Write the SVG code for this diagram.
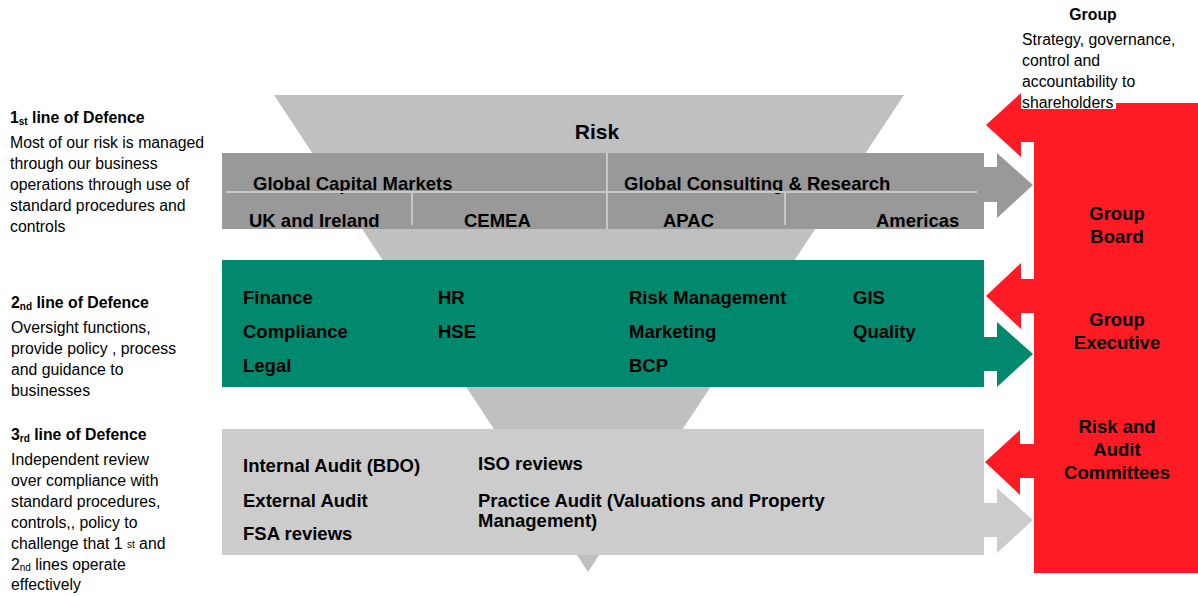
<svg xmlns="http://www.w3.org/2000/svg" width="1198" height="596" viewBox="0 0 1198 596">
<style>
text{font-family:"Liberation Sans",Arial,sans-serif;fill:#000}
.b{font-weight:bold;font-size:18.5px}
.h{font-weight:bold;font-size:15.8px}
.t{font-size:15.8px}
.s{font-size:10px}
.div{stroke:#c8c8c8;stroke-width:2;fill:none}
</style>
<rect width="1198" height="596" fill="#fff"/>
<g id="funnel">
<polygon points="274,95 904,95 588,572" fill="#c0c0c0"/>
<text x="597" y="139" text-anchor="middle" style="font-weight:bold;font-size:21px">Risk</text>
</g>
<g id="connectors">
<polygon points="984,167 997,167 997,153 1033,185 997,218 997,202 984,202" fill="#999999"/>
<polygon points="984,337 997,337 997,322 1033,354 997,387 997,371 984,371" fill="#00896f"/>
<polygon points="984,503 997,503 997,488 1033,520 997,553 997,537 984,537" fill="#cccccc"/>
<polygon points="1035,108 1021,108 1021,93 986,125 1021,157 1021,142 1035,142" fill="#fe1b24"/>
<polygon points="1035,279 1021,279 1021,263 986,296 1021,329 1021,313 1035,313" fill="#fe1b24"/>
<polygon points="1035,444 1020,444 1020,430 985,462 1020,495 1020,478 1035,478" fill="#fe1b24"/>
</g>
<g id="line1">
<rect x="222" y="153" width="762" height="76" fill="#999999"/>
<text class="b" x="253" y="190">Global Capital Markets</text>
<text class="b" x="624" y="190">Global Consulting &amp; Research</text>
<text class="b" x="249" y="227">UK and Ireland</text>
<text class="b" x="464" y="227">CEMEA</text>
<text class="b" x="663" y="227">APAC</text>
<text class="b" x="876" y="227">Americas</text>
<line class="div" x1="226" y1="192" x2="977" y2="192"/>
<line class="div" x1="607" y1="153" x2="607" y2="229"/>
<line class="div" x1="412" y1="192" x2="412" y2="225"/>
<line class="div" x1="785" y1="192" x2="785" y2="225"/>
</g>
<g id="line2">
<rect x="222" y="260" width="762" height="127" fill="#00896f"/>
<text class="b" x="243" y="304">Finance</text>
<text class="b" x="438" y="304">HR</text>
<text class="b" x="629" y="304">Risk Management</text>
<text class="b" x="853" y="304">GIS</text>
<text class="b" x="243" y="338">Compliance</text>
<text class="b" x="438" y="338">HSE</text>
<text class="b" x="629" y="338">Marketing</text>
<text class="b" x="853" y="338">Quality</text>
<text class="b" x="243" y="372">Legal</text>
<text class="b" x="629" y="372">BCP</text>
</g>
<g id="line3">
<rect x="222" y="429" width="762" height="126" fill="#cccccc"/>
<text class="b" x="243" y="472">Internal Audit (BDO)</text>
<text class="b" x="243" y="507">External Audit</text>
<text class="b" x="243" y="540">FSA reviews</text>
<text class="b" x="478" y="470">ISO reviews</text>
<text class="b" x="478" y="507">Practice Audit (Valuations and Property</text>
<text class="b" x="478" y="527">Management)</text>
</g>
<g id="group-bodies">
<rect x="1034" y="103" width="164" height="470" fill="#fe1b24"/>
<text class="b" text-anchor="middle" x="1117" y="220">Group</text>
<text class="b" text-anchor="middle" x="1117" y="243">Board</text>
<text class="b" text-anchor="middle" x="1117" y="326">Group</text>
<text class="b" text-anchor="middle" x="1117" y="349">Executive</text>
<text class="b" text-anchor="middle" x="1117" y="433">Risk and</text>
<text class="b" text-anchor="middle" x="1117" y="456">Audit</text>
<text class="b" text-anchor="middle" x="1117" y="479">Committees</text>
</g>
<g id="group-note">
<rect x="1021" y="96" width="95" height="13" fill="#fff"/>
<text class="h" text-anchor="middle" x="1093" y="20">Group</text>
<text class="t" x="1022" y="45">Strategy, governance,</text>
<text class="t" x="1022" y="66">control and</text>
<text class="t" x="1022" y="87">accountability to</text>
<text class="t" x="1022" y="108">shareholders</text>
</g>
<g id="first-line-note">
<text class="h" x="10" y="123">1<tspan class="s" dy="2">st</tspan><tspan dy="-2"> line of Defence</tspan></text>
<text class="t" x="10" y="148">Most of our risk is managed</text>
<text class="t" x="10" y="169">through our business</text>
<text class="t" x="10" y="190">operations through use of</text>
<text class="t" x="10" y="211">standard procedures and</text>
<text class="t" x="10" y="232">controls</text>
</g>
<g id="second-line-note">
<text class="h" x="11" y="308">2<tspan class="s" dy="2">nd</tspan><tspan dy="-2"> line of Defence</tspan></text>
<text class="t" x="11" y="333">Oversight functions,</text>
<text class="t" x="11" y="354">provide policy , process</text>
<text class="t" x="11" y="375">and guidance to</text>
<text class="t" x="11" y="396">businesses</text>
</g>
<g id="third-line-note">
<text class="h" x="11" y="440">3<tspan class="s" dy="2">rd</tspan><tspan dy="-2"> line of Defence</tspan></text>
<text class="t" x="11" y="465">Independent review</text>
<text class="t" x="11" y="486">over compliance with</text>
<text class="t" x="11" y="507">standard procedures,</text>
<text class="t" x="11" y="528">controls,, policy to</text>
<text class="t" x="11" y="549">challenge that 1 <tspan class="s" dy="-1">st</tspan><tspan dy="1"> and</tspan></text>
<text class="t" x="11" y="570">2<tspan class="s" dy="1">nd</tspan><tspan dy="-1"> lines operate</tspan></text>
<text class="t" x="11" y="590">effectively</text>
</g>
</svg>
